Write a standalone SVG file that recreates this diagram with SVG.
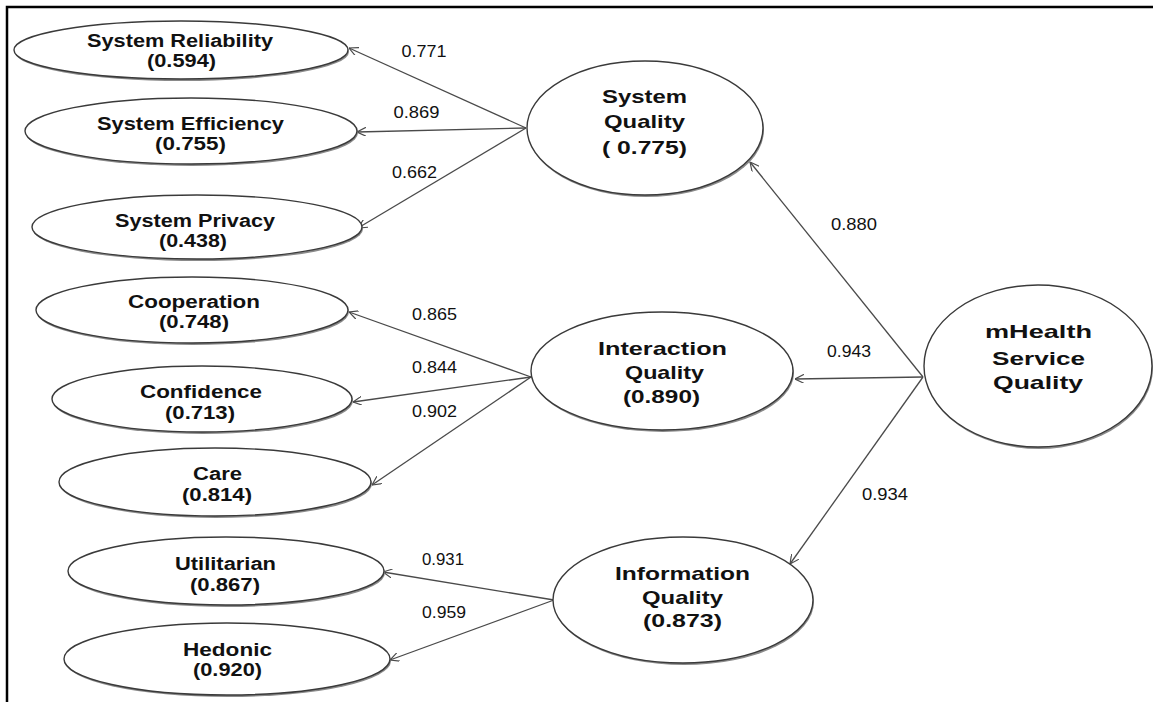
<svg xmlns="http://www.w3.org/2000/svg" width="1153" height="702" viewBox="0 0 1153 702">
<defs>
<marker id="arr" viewBox="0 0 10 10" refX="10" refY="5" markerWidth="9" markerHeight="9" markerUnits="userSpaceOnUse" orient="auto">
<path d="M0,0 L10,5 L0,10" fill="none" stroke="#4a4a4a" stroke-width="1.3"/>
</marker>
<style>
.sh{fill:#8a8a8a;}
.el{fill:#fff;stroke:#3a3a3a;stroke-width:1.4;}
.t{font-family:"Liberation Sans",Arial,sans-serif;font-weight:bold;font-size:17.5px;fill:#111;text-anchor:middle;}
.c{font-family:"Liberation Sans",Arial,sans-serif;font-weight:bold;font-size:18.5px;fill:#111;text-anchor:middle;}
.lb{font-family:"Liberation Sans",Arial,sans-serif;font-weight:normal;font-size:16.5px;fill:#111;text-anchor:middle;}
.ln{stroke:#4a4a4a;stroke-width:1.3;fill:none;marker-end:url(#arr);}
</style>
</defs>
<rect width="1153" height="702" fill="#fff"/>
<path d="M7,702 V7 H1153" fill="none" stroke="#000" stroke-width="2.5"/>

<g id="connectors">
<line class="ln" x1="526" y1="128" x2="349" y2="48"/>
<line class="ln" x1="526" y1="128" x2="357" y2="132"/>
<line class="ln" x1="526" y1="128" x2="358" y2="228"/>
<line class="ln" x1="531" y1="377" x2="349" y2="312"/>
<line class="ln" x1="531" y1="377" x2="353" y2="402"/>
<line class="ln" x1="531" y1="377" x2="372" y2="485"/>
<line class="ln" x1="554" y1="600" x2="383" y2="572"/>
<line class="ln" x1="554" y1="600" x2="390" y2="660"/>
<line class="ln" x1="923" y1="377" x2="750" y2="162"/>
<line class="ln" x1="923" y1="377" x2="795" y2="379"/>
<line class="ln" x1="923" y1="377" x2="790" y2="564"/>
<text class="lb" x="424" y="57" textLength="45" lengthAdjust="spacingAndGlyphs">0.771</text>
<text class="lb" x="416.5" y="118" textLength="46" lengthAdjust="spacingAndGlyphs">0.869</text>
<text class="lb" x="414.5" y="178" textLength="45" lengthAdjust="spacingAndGlyphs">0.662</text>
<text class="lb" x="854" y="230" textLength="46" lengthAdjust="spacingAndGlyphs">0.880</text>
<text class="lb" x="434.5" y="320" textLength="45" lengthAdjust="spacingAndGlyphs">0.865</text>
<text class="lb" x="434.5" y="373" textLength="45" lengthAdjust="spacingAndGlyphs">0.844</text>
<text class="lb" x="434.5" y="417" textLength="45" lengthAdjust="spacingAndGlyphs">0.902</text>
<text class="lb" x="849" y="357" textLength="44" lengthAdjust="spacingAndGlyphs">0.943</text>
<text class="lb" x="885" y="500" textLength="46" lengthAdjust="spacingAndGlyphs">0.934</text>
<text class="lb" x="443" y="565" textLength="42" lengthAdjust="spacingAndGlyphs">0.931</text>
<text class="lb" x="444" y="618" textLength="44" lengthAdjust="spacingAndGlyphs">0.959</text>
</g>

<g id="system-reliability">
<ellipse class="sh" cx="182" cy="52" rx="167" ry="29"/>
<ellipse class="el" cx="181" cy="50" rx="167" ry="29"/>
<text class="t" x="180" y="47" textLength="186" lengthAdjust="spacingAndGlyphs">System Reliability</text>
<text class="t" x="181.5" y="67" textLength="69" lengthAdjust="spacingAndGlyphs">(0.594)</text>
</g>
<g id="system-efficiency">
<ellipse class="sh" cx="192" cy="133" rx="166" ry="33"/>
<ellipse class="el" cx="191" cy="131" rx="166" ry="33"/>
<text class="t" x="190.5" y="130" textLength="187" lengthAdjust="spacingAndGlyphs">System Efficiency</text>
<text class="t" x="190.5" y="150" textLength="71" lengthAdjust="spacingAndGlyphs">(0.755)</text>
</g>
<g id="system-privacy">
<ellipse class="sh" cx="198" cy="229" rx="165" ry="32"/>
<ellipse class="el" cx="197" cy="227" rx="165" ry="32"/>
<text class="t" x="195" y="227" textLength="160" lengthAdjust="spacingAndGlyphs">System Privacy</text>
<text class="t" x="193" y="247" textLength="68" lengthAdjust="spacingAndGlyphs">(0.438)</text>
</g>
<g id="cooperation">
<ellipse class="sh" cx="193" cy="312" rx="156" ry="33"/>
<ellipse class="el" cx="192" cy="310" rx="156" ry="33"/>
<text class="t" x="194" y="308" textLength="132" lengthAdjust="spacingAndGlyphs">Cooperation</text>
<text class="t" x="194" y="328" textLength="70" lengthAdjust="spacingAndGlyphs">(0.748)</text>
</g>
<g id="confidence">
<ellipse class="sh" cx="203" cy="401" rx="150" ry="33"/>
<ellipse class="el" cx="202" cy="399" rx="150" ry="33"/>
<text class="t" x="201" y="398" textLength="122" lengthAdjust="spacingAndGlyphs">Confidence</text>
<text class="t" x="200" y="419" textLength="70" lengthAdjust="spacingAndGlyphs">(0.713)</text>
</g>
<g id="care">
<ellipse class="sh" cx="216" cy="484" rx="156" ry="34"/>
<ellipse class="el" cx="215" cy="482" rx="156" ry="34"/>
<text class="t" x="217.5" y="480" textLength="49" lengthAdjust="spacingAndGlyphs">Care</text>
<text class="t" x="217" y="501" textLength="70" lengthAdjust="spacingAndGlyphs">(0.814)</text>
</g>
<g id="utilitarian">
<ellipse class="sh" cx="227" cy="573" rx="158" ry="34"/>
<ellipse class="el" cx="226" cy="571" rx="158" ry="34"/>
<text class="t" x="225.5" y="570" textLength="101" lengthAdjust="spacingAndGlyphs">Utilitarian</text>
<text class="t" x="225" y="591" textLength="70" lengthAdjust="spacingAndGlyphs">(0.867)</text>
</g>
<g id="hedonic">
<ellipse class="sh" cx="228" cy="661" rx="163" ry="36"/>
<ellipse class="el" cx="227" cy="659" rx="163" ry="36"/>
<text class="t" x="227.5" y="656" textLength="89" lengthAdjust="spacingAndGlyphs">Hedonic</text>
<text class="t" x="227.5" y="676" textLength="69" lengthAdjust="spacingAndGlyphs">(0.920)</text>
</g>

<g id="system-quality">
<ellipse class="sh" cx="646" cy="130" rx="118" ry="67"/>
<ellipse class="el" cx="645" cy="128" rx="118" ry="67"/>
<text class="c" x="644.5" y="103" textLength="85" lengthAdjust="spacingAndGlyphs">System</text>
<text class="c" x="644.5" y="128" textLength="81" lengthAdjust="spacingAndGlyphs">Quality</text>
<text class="c" x="644.5" y="154" textLength="85" lengthAdjust="spacingAndGlyphs">( 0.775)</text>
</g>
<g id="interaction-quality">
<ellipse class="sh" cx="663" cy="373" rx="131" ry="59"/>
<ellipse class="el" cx="662" cy="371" rx="131" ry="59"/>
<text class="c" x="662.5" y="355" textLength="129" lengthAdjust="spacingAndGlyphs">Interaction</text>
<text class="c" x="664.5" y="379" textLength="79" lengthAdjust="spacingAndGlyphs">Quality</text>
<text class="c" x="661.5" y="403" textLength="77" lengthAdjust="spacingAndGlyphs">(0.890)</text>
</g>
<g id="information-quality">
<ellipse class="sh" cx="684" cy="602" rx="130" ry="63"/>
<ellipse class="el" cx="683" cy="600" rx="130" ry="63"/>
<text class="c" x="682.5" y="580" textLength="135" lengthAdjust="spacingAndGlyphs">Information</text>
<text class="c" x="682.5" y="604" textLength="81" lengthAdjust="spacingAndGlyphs">Quality</text>
<text class="c" x="682.5" y="627" textLength="79" lengthAdjust="spacingAndGlyphs">(0.873)</text>
</g>
<g id="mhealth-service-quality">
<ellipse class="sh" cx="1039" cy="368" rx="114" ry="81"/>
<ellipse class="el" cx="1038" cy="366" rx="114" ry="81"/>
<text class="c" x="1038.5" y="338" textLength="107" lengthAdjust="spacingAndGlyphs">mHealth</text>
<text class="c" x="1038.5" y="365" textLength="93" lengthAdjust="spacingAndGlyphs">Service</text>
<text class="c" x="1038" y="389" textLength="90" lengthAdjust="spacingAndGlyphs">Quality</text>
</g>
</svg>
